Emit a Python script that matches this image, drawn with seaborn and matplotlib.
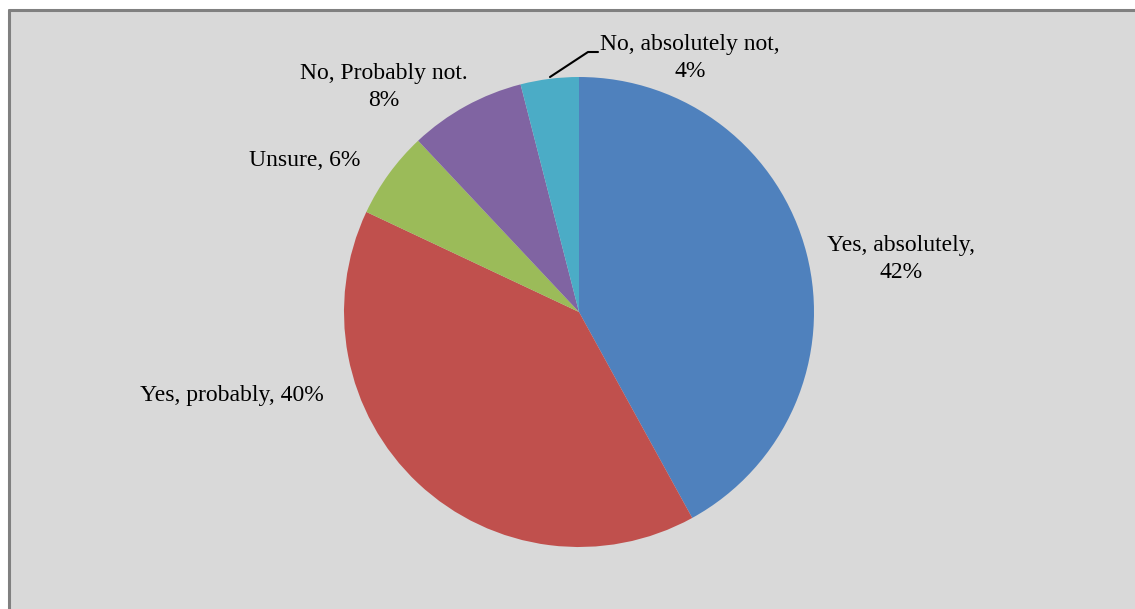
import matplotlib
matplotlib.use("Agg")
import matplotlib.pyplot as plt
import seaborn as sns
from matplotlib.patches import Rectangle
from matplotlib.lines import Line2D

# survey answers, clockwise from 12 o'clock
answers = ["Yes, absolutely", "Yes, probably", "Unsure", "No, Probably not", "No, absolutely not"]
shares = [42, 40, 6, 8, 4]
label_texts = ["Yes, absolutely,\n42%", "Yes, probably, 40%", "Unsure, 6%",
               "No, Probably not.\n8%", "No, absolutely not,\n4%"]
colors = ["#4F81BD", "#C0504D", "#9BBB59", "#8064A2", "#4BACC6"]

sns.set_style("white")
plt.rcParams["font.family"] = ["Liberation Serif", "DejaVu Serif"]

W, H = 1135, 609
fig = plt.figure(figsize=(W / 100, H / 100), dpi=100)
fig.patch.set_facecolor("white")

# grey chart area with a darker top/left border
fig.patches.append(Rectangle((9 / W, 0), 1, 1 - 10 / H, transform=fig.transFigure,
                             facecolor="#D9D9D9", edgecolor="none", zorder=-5))
fig.add_artist(Line2D([9 / W, 1], [1 - 10 / H, 1 - 10 / H], transform=fig.transFigure,
                      color="#808080", lw=2.2, zorder=-4))
fig.add_artist(Line2D([9 / W, 9 / W], [0, 1 - 10 / H], transform=fig.transFigure,
                      color="#808080", lw=2.2, zorder=-4))

cx, cy, r = 579, H - 312, 235
ax = fig.add_axes([(cx - r) / W, (cy - r) / H, 2 * r / W, 2 * r / H])
ax.pie(shares, colors=colors, startangle=90, counterclock=False,
       wedgeprops=dict(linewidth=0))
ax.set_xlim(-1, 1)
ax.set_ylim(-1, 1)
ax.set_aspect("equal")
ax.axis("off")
ax.patch.set_visible(False)

# label positions in pixel coordinates (from the top-left)
label_pos = [(901, 259), (232, 395), (305, 160), (384, 87), (690, 58)]
for txt, (px, py) in zip(label_texts, label_pos):
    fig.text(px / W, 1 - py / H, txt, ha="center", va="center", fontsize=17,
             linespacing=1.4, color="black")

# leader line for the smallest slice
fig.add_artist(Line2D([550 / W, 588 / W, 598 / W],
                      [1 - 77 / H, 1 - 52 / H, 1 - 52 / H],
                      transform=fig.transFigure, color="black", lw=1.5))

fig.savefig("out.png", dpi=100)
